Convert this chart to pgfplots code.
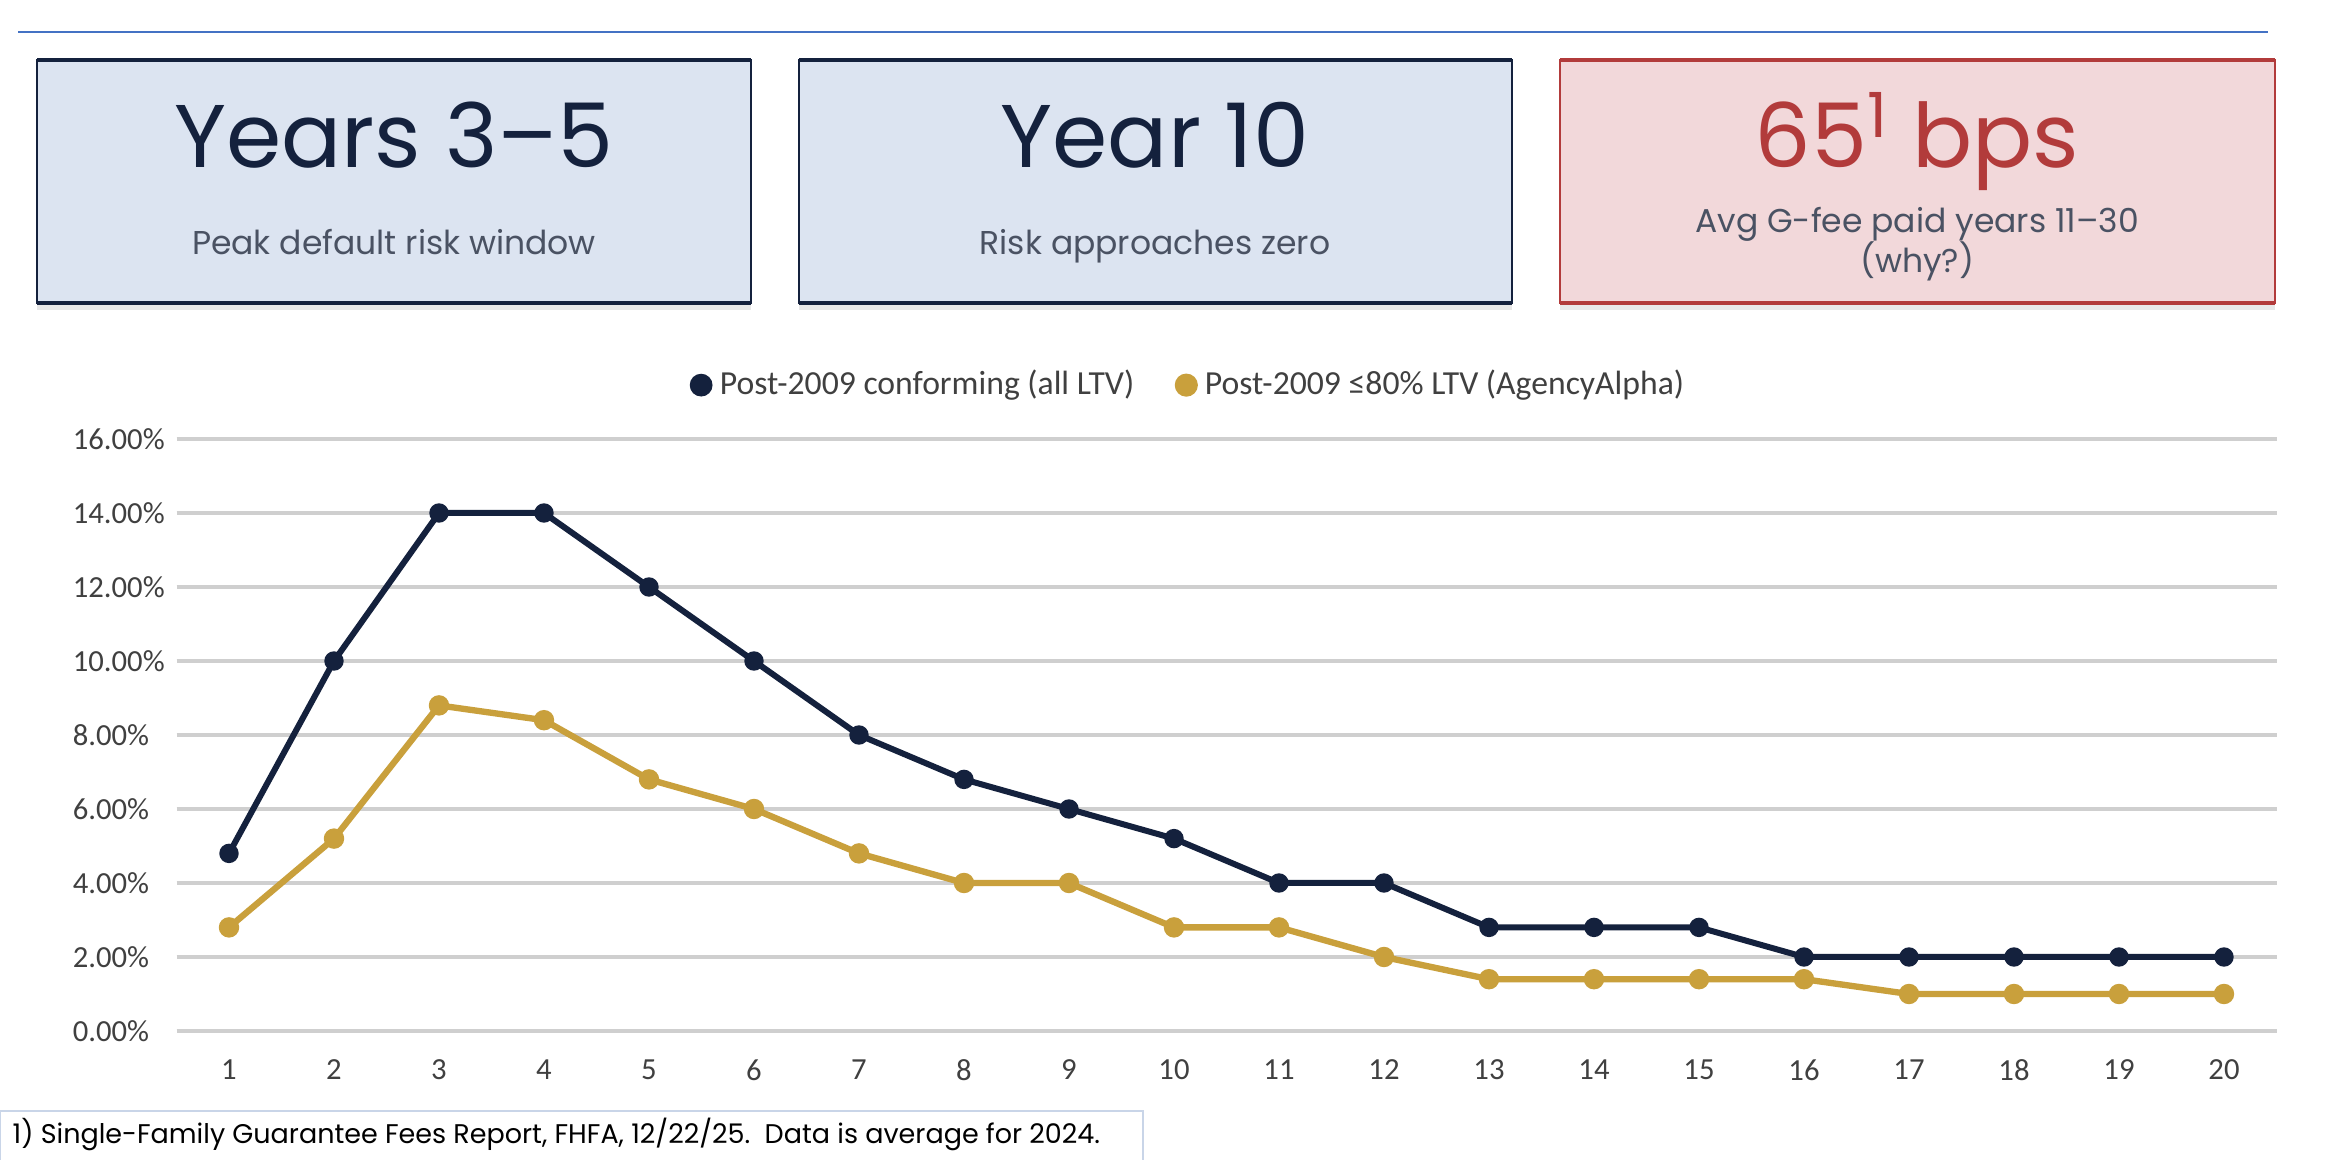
\documentclass[border=0pt]{standalone}
\usepackage{fontspec}
\setmainfont{Poppins}
\newfontfamily\carlito{Carlito}
\usepackage{pgfplots}
\pgfplotsset{compat=1.18}
\usetikzlibrary{shadows}

\definecolor{navy}{HTML}{14213D}
\definecolor{gold}{HTML}{C9A03C}
\definecolor{topblue}{HTML}{4472C4}
\definecolor{boxblue}{HTML}{DCE4F1}
\definecolor{boxpink}{HTML}{F2D8DA}
\definecolor{boxred}{HTML}{B23B3B}
\definecolor{subgrey}{HTML}{4A5263}
\definecolor{gridgrey}{HTML}{CFCFCF}
\definecolor{labelgrey}{HTML}{404040}
\definecolor{footborder}{HTML}{C9D5E8}

% default-rate curves by loan age (years 1-20), in percent
\pgfplotstableread{
year conforming agency
1   4.8   2.8
2   10.0  5.2
3   14.0  8.8
4   14.0  8.4
5   12.0  6.8
6   10.0  6.0
7   8.0   4.8
8   6.8   4.0
9   6.0   4.0
10  5.2   2.8
11  4.0   2.8
12  4.0   2.0
13  2.8   1.4
14  2.8   1.4
15  2.8   1.4
16  2.0   1.4
17  2.0   1.0
18  2.0   1.0
19  2.0   1.0
20  2.0   1.0
}\defaults

\begin{document}
\begin{tikzpicture}
\begin{scope}[x=0.3pt,y=-0.3pt]
  \useasboundingbox (0,0) rectangle (2350,1160);
  \fill[white] (0,0) rectangle (2350,1160);
  % header rule
  \draw[topblue, line width=0.75pt] (18,32) -- (2268,32);

  % key-figure cards
  \fill[boxblue, drop shadow={opacity=0.18, shadow xshift=0pt, shadow yshift=-2pt}] (37,60) rectangle (751,303);
  \draw[navy, line width=0.45pt] (37,60) rectangle (751,303);
  \draw[navy, line width=1.2pt] (37,60) -- (751,60) (37,303) -- (751,303);

  \fill[boxblue, drop shadow={opacity=0.18, shadow xshift=0pt, shadow yshift=-2pt}] (799,60) rectangle (1512,303);
  \draw[navy, line width=0.45pt] (799,60) rectangle (1512,303);
  \draw[navy, line width=1.2pt] (799,60) -- (1512,60) (799,303) -- (1512,303);

  \fill[boxpink, drop shadow={opacity=0.18, shadow xshift=0pt, shadow yshift=-2pt}] (1560,60) rectangle (2275,303);
  \draw[boxred, line width=0.45pt] (1560,60) rectangle (2275,303);
  \draw[boxred, line width=1.2pt] (1560,60) -- (2275,60) (1560,303) -- (2275,303);

  \node[anchor=base, inner sep=0pt, text=navy, font=\fontsize{26.7}{30}\selectfont] at (394,168) {Years 3–5};
  \node[anchor=base, inner sep=0pt, text=subgrey, font=\fontsize{9.9}{12}\selectfont] at (394,255) {Peak default risk window};

  \node[anchor=base, inner sep=0pt, text=navy, font=\fontsize{26.7}{30}\selectfont] at (1155,168) {Year 10};
  \node[anchor=base, inner sep=0pt, text=subgrey, font=\fontsize{9.9}{12}\selectfont] at (1155,255) {Risk approaches zero};

  \node[anchor=base, inner sep=0pt, text=boxred, font=\fontsize{26.7}{30}\selectfont] at (1917,168) {65\textsuperscript{1} bps};
  \node[anchor=base, inner sep=0pt, text=subgrey, font=\fontsize{9.9}{12}\selectfont] at (1917,233) {Avg G-fee paid years 11–30};
  \node[anchor=base, inner sep=0pt, text=subgrey, font=\fontsize{9.9}{12}\selectfont] at (1917,273) {(why?)};

  % source note
  \draw[footborder, line width=0.6pt] (0,1111) rectangle (1143,1170);
  \node[anchor=base west, inner sep=0pt, font=\fontsize{8.1}{10}\selectfont] at (12,1143) {1) Single-Family Guarantee Fees Report, FHFA, 12/22/25.\ \ Data is average for 2024.};
\end{scope}

\begin{axis}[
  at={(52.95pt,-309.3pt)}, anchor=south west,
  scale only axis, width=630pt, height=177.6pt,
  xmin=0.5, xmax=20.5, ymin=0, ymax=16,
  axis line style={draw=none},
  tick style={draw=none},
  ymajorgrids, grid style={gridgrey, line width=1.1pt},
  xtick={1,...,20},
  xticklabels={1,2,3,4,5,6,7,8,9,10,11,12,13,14,15,16,17,18,19,20},
  ytick={0,2,...,16},
  yticklabels={0.00\%,2.00\%,4.00\%,6.00\%,8.00\%,10.00\%,12.00\%,14.00\%,16.00\%},
  ticklabel style={font=\carlito\fontsize{9.2}{11}\selectfont, text=labelgrey},
  xticklabel style={yshift=-5pt},
  yticklabel style={anchor=west, inner sep=0pt, xshift=-31.3pt},
  legend style={at={(0.4826,1.091)}, anchor=center, draw=none, fill=none,
    font=\carlito\fontsize{10.1}{12}\selectfont, text=labelgrey,
    /tikz/every even column/.append style={column sep=10pt}},
  legend columns=2,
  legend image code/.code={\draw[#1, line width=1.2pt] (-3pt,0pt) -- (3pt,0pt);
    \draw[#1, mark size=2.5pt] plot coordinates {(0pt,0pt)};},
]
\addplot[navy, line width=1.8pt, mark=*, mark size=2pt, mark options={fill=navy}]
  table[x=year, y=conforming] {\defaults};
\addlegendentry{Post-2009 conforming (all LTV)}
\addplot[gold, line width=1.9pt, mark=*, mark size=2.1pt, mark options={fill=gold}]
  table[x=year, y=agency] {\defaults};
\addlegendentry{Post-2009 ≤80\% LTV (AgencyAlpha)}
\end{axis}
\end{tikzpicture}
\end{document}
